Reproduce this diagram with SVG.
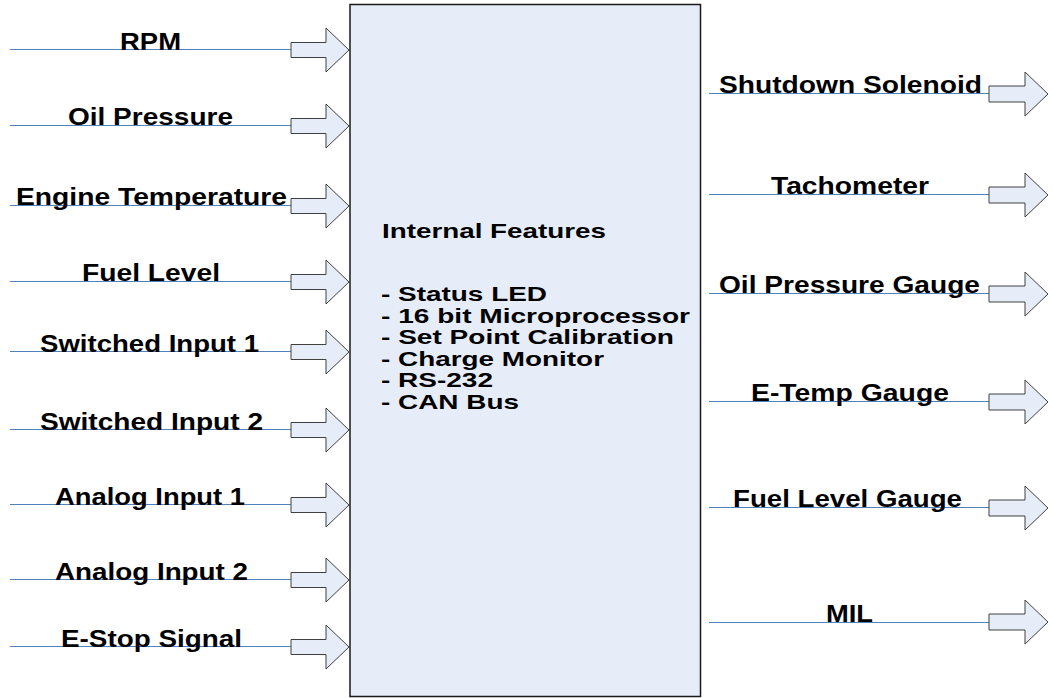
<svg xmlns="http://www.w3.org/2000/svg" xmlns:xlink="http://www.w3.org/1999/xlink" width="1053" height="698" viewBox="0 0 1053 698">
<style>
  .lbl{font-family:"Liberation Sans",Arial,sans-serif;font-weight:bold;font-size:24px;fill:#000}
  .ctr{font-family:"Liberation Sans",Arial,sans-serif;font-weight:bold;font-size:21px;fill:#000}
  .wire{stroke:#4f81bd;stroke-width:1.2;fill:none}
  .arr{fill:#e6edf8;stroke:#404040;stroke-width:1}
  .box{fill:#e7edf8;stroke:#1a1a1a;stroke-width:1.5}
</style>
<defs>
  <path id="inArrow" d="M291,-7.5 H326 V-22 L349,0 L326,22 V7.5 H291 Z"/>
  <path id="outArrow" d="M989,-8 H1025 V-22 L1048,0 L1025,22 V8 H989 Z"/>
</defs>
<rect width="1053" height="698" fill="#fff"/>
<g id="connectors">
  <line class="wire" x1="10" y1="49.5" x2="291" y2="49.5"/>
  <line class="wire" x1="10" y1="125.5" x2="291" y2="125.5"/>
  <line class="wire" x1="10" y1="205.5" x2="291" y2="205.5"/>
  <line class="wire" x1="10" y1="281.5" x2="291" y2="281.5"/>
  <line class="wire" x1="10" y1="351.5" x2="291" y2="351.5"/>
  <line class="wire" x1="10" y1="429.5" x2="291" y2="429.5"/>
  <line class="wire" x1="10" y1="504.5" x2="291" y2="504.5"/>
  <line class="wire" x1="10" y1="579.5" x2="291" y2="579.5"/>
  <line class="wire" x1="10" y1="646.5" x2="291" y2="646.5"/>
  <line class="wire" x1="709" y1="93.5" x2="989" y2="93.5"/>
  <line class="wire" x1="709" y1="194.5" x2="989" y2="194.5"/>
  <line class="wire" x1="709" y1="293.5" x2="989" y2="293.5"/>
  <line class="wire" x1="709" y1="401.5" x2="989" y2="401.5"/>
  <line class="wire" x1="709" y1="507.5" x2="989" y2="507.5"/>
  <line class="wire" x1="709" y1="622.5" x2="989" y2="622.5"/>
</g>
<g id="controller">
  <rect class="box" x="350" y="4.5" width="350.5" height="692"/>
  <text class="ctr" x="382" y="238" textLength="224" lengthAdjust="spacingAndGlyphs">Internal Features</text>
  <text class="ctr" x="381" y="301" textLength="166" lengthAdjust="spacingAndGlyphs">- Status LED</text>
  <text class="ctr" x="381" y="322.5" textLength="309" lengthAdjust="spacingAndGlyphs">- 16 bit Microprocessor</text>
  <text class="ctr" x="381" y="344" textLength="293" lengthAdjust="spacingAndGlyphs">- Set Point Calibration</text>
  <text class="ctr" x="381" y="365.5" textLength="223" lengthAdjust="spacingAndGlyphs">- Charge Monitor</text>
  <text class="ctr" x="381" y="387" textLength="112" lengthAdjust="spacingAndGlyphs">- RS-232</text>
  <text class="ctr" x="381" y="408.5" textLength="138" lengthAdjust="spacingAndGlyphs">- CAN Bus</text>
</g>
<g id="in-rpm"><use href="#inArrow" class="arr" transform="translate(0,50)"/><text class="lbl" x="120" y="50" textLength="61" lengthAdjust="spacingAndGlyphs">RPM</text></g>
<g id="in-oil"><use href="#inArrow" class="arr" transform="translate(0,126)"/><text class="lbl" x="68" y="125" textLength="165" lengthAdjust="spacingAndGlyphs">Oil Pressure</text></g>
<g id="in-etemp"><use href="#inArrow" class="arr" transform="translate(0,206)"/><text class="lbl" x="16" y="205" textLength="271" lengthAdjust="spacingAndGlyphs">Engine Temperature</text></g>
<g id="in-fuel"><use href="#inArrow" class="arr" transform="translate(0,282)"/><text class="lbl" x="82" y="281" textLength="138" lengthAdjust="spacingAndGlyphs">Fuel Level</text></g>
<g id="in-sw1"><use href="#inArrow" class="arr" transform="translate(0,352)"/><text class="lbl" x="40" y="352" textLength="219" lengthAdjust="spacingAndGlyphs">Switched Input 1</text></g>
<g id="in-sw2"><use href="#inArrow" class="arr" transform="translate(0,430)"/><text class="lbl" x="40" y="430" textLength="223" lengthAdjust="spacingAndGlyphs">Switched Input 2</text></g>
<g id="in-an1"><use href="#inArrow" class="arr" transform="translate(0,505)"/><text class="lbl" x="55" y="505" textLength="190" lengthAdjust="spacingAndGlyphs">Analog Input 1</text></g>
<g id="in-an2"><use href="#inArrow" class="arr" transform="translate(0,580)"/><text class="lbl" x="55" y="580" textLength="193" lengthAdjust="spacingAndGlyphs">Analog Input 2</text></g>
<g id="in-estop"><use href="#inArrow" class="arr" transform="translate(0,647)"/><text class="lbl" x="61" y="647" textLength="181" lengthAdjust="spacingAndGlyphs">E-Stop Signal</text></g>
<g id="out-shutdown"><use href="#outArrow" class="arr" transform="translate(0,94)"/><text class="lbl" x="719" y="93" textLength="263" lengthAdjust="spacingAndGlyphs">Shutdown Solenoid</text></g>
<g id="out-tach"><use href="#outArrow" class="arr" transform="translate(0,195)"/><text class="lbl" x="771" y="194" textLength="158" lengthAdjust="spacingAndGlyphs">Tachometer</text></g>
<g id="out-oilgauge"><use href="#outArrow" class="arr" transform="translate(0,294)"/><text class="lbl" x="719" y="293" textLength="261" lengthAdjust="spacingAndGlyphs">Oil Pressure Gauge</text></g>
<g id="out-etempgauge"><use href="#outArrow" class="arr" transform="translate(0,402)"/><text class="lbl" x="751" y="401" textLength="198" lengthAdjust="spacingAndGlyphs">E-Temp Gauge</text></g>
<g id="out-fuelgauge"><use href="#outArrow" class="arr" transform="translate(0,508)"/><text class="lbl" x="733" y="507" textLength="229" lengthAdjust="spacingAndGlyphs">Fuel Level Gauge</text></g>
<g id="out-mil"><use href="#outArrow" class="arr" transform="translate(0,622)"/><text class="lbl" x="826" y="622" textLength="47" lengthAdjust="spacingAndGlyphs">MIL</text></g>
</svg>
